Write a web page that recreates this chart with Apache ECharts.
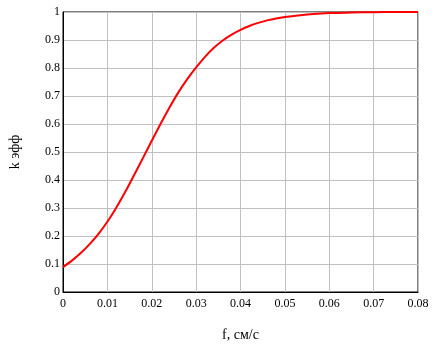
<!DOCTYPE html>
<html>
<head>
<meta charset="utf-8">
<script src="https://cdn.jsdelivr.net/npm/echarts@6/dist/echarts.min.js"></script>
<style>html,body{margin:0;padding:0;background:#fff}#c{width:448px;height:353px}</style>
</head>
<body>
<div id="c"></div>
<script>
var fValues = [0, 0.002, 0.004, 0.006, 0.008, 0.010, 0.012, 0.014, 0.016, 0.018, 0.020, 0.022, 0.024, 0.026, 0.028, 0.030, 0.032, 0.034, 0.036, 0.038, 0.040, 0.042, 0.044, 0.046, 0.048, 0.050, 0.055, 0.060, 0.065, 0.070, 0.075, 0.080];
var kValues = [0.089, 0.112, 0.139, 0.171, 0.208, 0.251, 0.301, 0.357, 0.417, 0.478, 0.540, 0.601, 0.659, 0.713, 0.760, 0.802, 0.840, 0.872, 0.898, 0.919, 0.936, 0.950, 0.961, 0.970, 0.977, 0.982, 0.991, 0.996, 0.998, 0.9995, 1.0, 1.0];
var xTitle = 'f, см/с';
var yTitle = 'k эфф';

var data = fValues.map(function (f, i) { return [f, kValues[i]]; });
var font = '"Liberation Serif", "Times New Roman", serif';
var chart = echarts.init(document.getElementById('c'));
chart.setOption({
  animation: false,
  backgroundColor: '#fff',
  grid: { left: 62, top: 12, width: 356, height: 280, show: true, borderColor: '#000', borderWidth: 1, backgroundColor: 'transparent' },
  xAxis: {
    type: 'value', min: 0, max: 0.08, interval: 0.01,
    name: xTitle, nameLocation: 'middle', nameGap: 36,
    nameTextStyle: { fontFamily: font, fontSize: 14, color: '#000' },
    axisLine: { show: true, lineStyle: { color: '#000', width: 1 } },
    axisTick: { show: false },
    axisLabel: { fontFamily: font, fontSize: 12, color: '#000', margin: 6,
      formatter: function (v) { return String(+v.toFixed(2)); } },
    splitLine: { show: true, lineStyle: { color: '#c0c0c0', width: 1 } }
  },
  yAxis: {
    type: 'value', min: 0, max: 1, interval: 0.1,
    name: yTitle, nameLocation: 'middle', nameGap: 41, nameRotate: 90,
    nameTextStyle: { fontFamily: font, fontSize: 14, color: '#000' },
    axisLine: { show: true, lineStyle: { color: '#000', width: 1 } },
    axisTick: { show: false },
    axisLabel: { fontFamily: font, fontSize: 12, color: '#000', margin: 3,
      formatter: function (v) { return String(+v.toFixed(1)); } },
    splitLine: { show: true, lineStyle: { color: '#c0c0c0', width: 1 } }
  },
  series: [{
    type: 'line', data: data, smooth: 0.3, showSymbol: false, symbol: 'none',
    lineStyle: { color: '#ff0000', width: 2 }, clip: false
  }]
});
</script>
</body>
</html>
